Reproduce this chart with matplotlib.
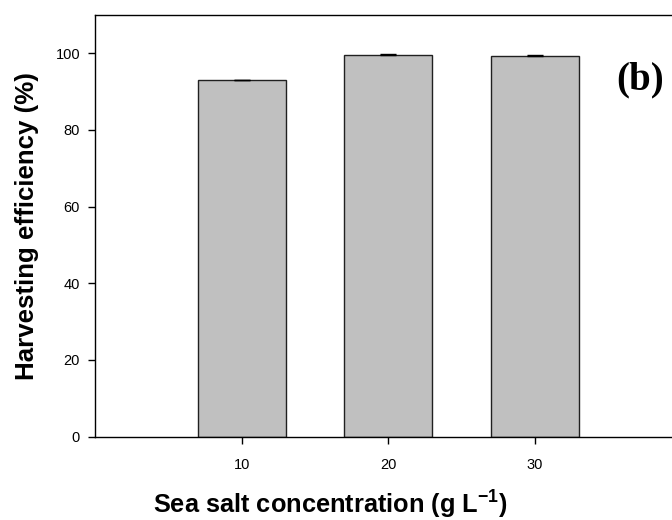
import numpy as np
import matplotlib.pyplot as plt

# data
concentrations = ['10', '20', '30']
efficiency = [92.9, 99.6, 99.3]
err_up = [0.15, 0.15, 0.2]

plt.rcParams['font.family'] = ['Liberation Sans', 'DejaVu Sans']
plt.rcParams['mathtext.fontset'] = 'custom'
plt.rcParams['mathtext.bf'] = 'Liberation Sans:bold'
plt.rcParams['mathtext.rm'] = 'Liberation Sans'

fig = plt.figure(figsize=(6.72, 5.2), dpi=100)
ax = fig.add_axes([0.1418, 0.1602, 0.8723, 0.8115])

pos = np.arange(1, len(concentrations) + 1)
ax.bar(pos, efficiency, width=0.6, color='#c0c0c0', edgecolor='#202020', linewidth=1.0,
       yerr=[np.zeros(len(err_up)), err_up], capsize=6,
       error_kw=dict(ecolor='black', elinewidth=1.0, capthick=1.0), zorder=2)

ax.set_xlim(0, 4)
ax.set_ylim(0, 110)
ax.set_xticks(pos)
ax.set_xticklabels(concentrations)
ax.set_yticks(np.arange(0, 101, 20))
ax.tick_params(axis='both', direction='out', length=5, width=1, labelsize=10.5)
ax.tick_params(axis='x', pad=10)
ax.tick_params(axis='y', pad=6)
for s in ax.spines.values():
    s.set_linewidth(1.0)

fig.text(0.491, 0.013, r'Sea salt concentration (g L$^{\mathbf{-1}}$)', fontsize=18.3,
         fontweight='bold', ha='center', va='baseline')
fig.text(0.04, 0.565, 'Harvesting efficiency (%)', fontsize=18.6, fontweight='bold',
         rotation=90, ha='center', va='center')

fig.text(0.952, 0.846, '(b)', fontsize=28, fontweight='bold', family='Liberation Serif',
         ha='center', va='center')

fig.savefig('out.png', dpi=100)
